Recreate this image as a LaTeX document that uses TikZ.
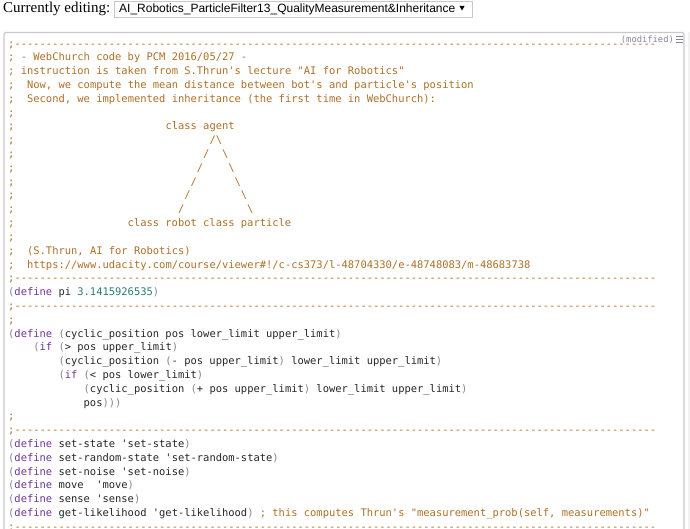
\documentclass[tikz,border=0pt]{standalone}
\usepackage{fontspec}
\setmainfont{Liberation Serif}
\setsansfont{Liberation Sans}
\newfontfamily\codefont{DejaVu Sans Mono}
\usepackage{tikz}

\definecolor{cmtcol}{HTML}{AD7028}
\definecolor{kwcol}{HTML}{6F3594}
\definecolor{numcol}{HTML}{26806A}
\definecolor{parcol}{HTML}{858598}
\definecolor{atomcol}{HTML}{262626}
\definecolor{framecol}{HTML}{C8C8C8}

\newcommand{\kw}[1]{\textcolor{kwcol}{#1}}
\newcommand{\num}[1]{\textcolor{numcol}{#1}}
\newcommand{\pl}[1]{\textcolor{parcol}{#1}}
\newcommand{\cm}[1]{\textcolor{cmtcol}{#1}}
\newcommand{\dashrow}{------------------------------------------------------------------------------------------------------}

\tikzset{
  code/.style={anchor=base west, inner sep=0pt, text=atomcol, font=\codefont\fontsize{10.45}{12}\selectfont\frenchspacing},
  cmt/.style={code, text=cmtcol},
}

\begin{document}
\begin{tikzpicture}[x=1pt,y=-1pt]
\useasboundingbox (0,0) rectangle (690,529);
\fill [white] (0,0) rectangle (690,529);

% header
\node [anchor=base west, inner sep=0pt, font=\fontsize{15}{18}\selectfont] (editing) at (3,13) {Currently editing:};
\node [anchor=north west, draw=framecol, fill=white, inner sep=0pt, minimum width=358pt, minimum height=16pt] (menubox) at (113.5,0.7) {};
\node [anchor=base west, inner sep=0pt, font=\sffamily\fontsize{12}{14}\selectfont] (menutext) at (119,13) {AI\_Robotics\_ParticleFilter13\_QualityMeasurement\&Inheritance};
\fill (459.5,6) -- (464.5,6) -- (462,10.5) -- cycle;

% editor frame
\fill [black!5] (688,32) rectangle (690,529);
\draw [framecol, line width=1.2pt, rounded corners=2pt] (4,529) -- (4,32.5) -- (684,32.5) -- (684,529);

% semicolons down the left edge
\foreach \y in {47.2,61,74.8,88.6,102.4,116.2,130,143.8,157.6,171.4,185.2,199,212.8,226.6,240.4,254.2,268,281.8,309.4,323.2,419.8,433.6,530.2}
  \node [cmt] at (8,\y) {;};

% comment block
\node [code, text=parcol, font=\codefont\fontsize{8.8}{10}\selectfont] (modified) at (620.7,43) {(modified)};
\draw [parcol, line width=0.8pt] (676,36.5) -- (683,36.5) (676,39.5) -- (683,39.5) (676,42.5) -- (683,42.5);
\node [cmt] (dashA) at (14.3,47.2) {\dashrow};
\node [cmt] (title) at (20.6,61) {- WebChurch code by PCM 2016/05/27 -};
\node [cmt] (lecture) at (20.6,74.8) {instruction is taken from S.Thrun's lecture "AI for Robotics"};
\node [cmt] (now) at (26.9,88.6) {Now, we compute the mean distance between bot's and particle's position};
\node [cmt] (second) at (26.9,102.4) {Second, we implemented inheritance (the first time in WebChurch):};

% class tree, typed as text
\node [cmt] (agent) at (165.3,130) {class agent};
\node [cmt] (tipL) at (209.3,143.8) {/\textbackslash};
\node [cmt] (lA) at (203,157.6) {/};
\node [cmt] (rA) at (221.9,157.6) {\textbackslash};
\node [cmt] (lB) at (196.7,171.4) {/};
\node [cmt] (rB) at (228.2,171.4) {\textbackslash};
\node [cmt] (lC) at (190.4,185.2) {/};
\node [cmt] (rC) at (234.4,185.2) {\textbackslash};
\node [cmt] (lD) at (184.1,199) {/};
\node [cmt] (rD) at (240.7,199) {\textbackslash};
\node [cmt] (lE) at (177.8,212.8) {/};
\node [cmt] (rE) at (247,212.8) {\textbackslash};
\node [cmt] (robot) at (127.5,226.6) {class robot class particle};

\node [cmt] (credit) at (26.9,254.2) {(S.Thrun, AI for Robotics)};
\node [cmt] (url) at (26.9,268) {https://www.udacity.com/course/viewer\#!/c-cs373/l-48704330/e-48748083/m-48683738};
\node [cmt] (dashB) at (14.3,281.8) {\dashrow};

% define pi
\node [code] (pi) at (8,295.6) {\pl{(}\kw{define} pi \num{3.1415926535}\pl{)}};
\node [cmt] (dashC) at (14.3,309.4) {\dashrow};

% cyclic_position
\node [code] (cycA) at (8,337) {\pl{(}\kw{define} \pl{(}cyclic\_position pos lower\_limit upper\_limit\pl{)}};
\node [code] (cycB) at (33.2,350.8) {\pl{(}\kw{if} \pl{(}> pos upper\_limit\pl{)}};
\node [code] (cycC) at (58.3,364.6) {\pl{(}cyclic\_position \pl{(}- pos upper\_limit\pl{)} lower\_limit upper\_limit\pl{)}};
\node [code] (cycD) at (58.3,378.4) {\pl{(}\kw{if} \pl{(}< pos lower\_limit\pl{)}};
\node [code] (cycE) at (83.5,392.2) {\pl{(}cyclic\_position \pl{(}+ pos upper\_limit\pl{)} lower\_limit upper\_limit\pl{)}};
\node [code] (cycF) at (83.5,406) {pos\pl{)))}};
\node [cmt] (dashD) at (14.3,433.6) {\dashrow};

% message names
\node [code] (setstate) at (8,447.4) {\pl{(}\kw{define} set-state 'set-state\pl{)}};
\node [code] (setrandom) at (8,461.2) {\pl{(}\kw{define} set-random-state 'set-random-state\pl{)}};
\node [code] (setnoise) at (8,475) {\pl{(}\kw{define} set-noise 'set-noise\pl{)}};
\node [code] (move) at (8,488.8) {\pl{(}\kw{define} move\ \ 'move\pl{)}};
\node [code] (sense) at (8,502.6) {\pl{(}\kw{define} sense 'sense\pl{)}};
\node [code] (likelihood) at (8,516.4) {\pl{(}\kw{define} get-likelihood 'get-likelihood\pl{)} \cm{; this computes Thrun's "measurement\_prob(self, measurements)"}};
\node [cmt] (dashE) at (14.3,530.2) {\dashrow};
\end{tikzpicture}
\end{document}
